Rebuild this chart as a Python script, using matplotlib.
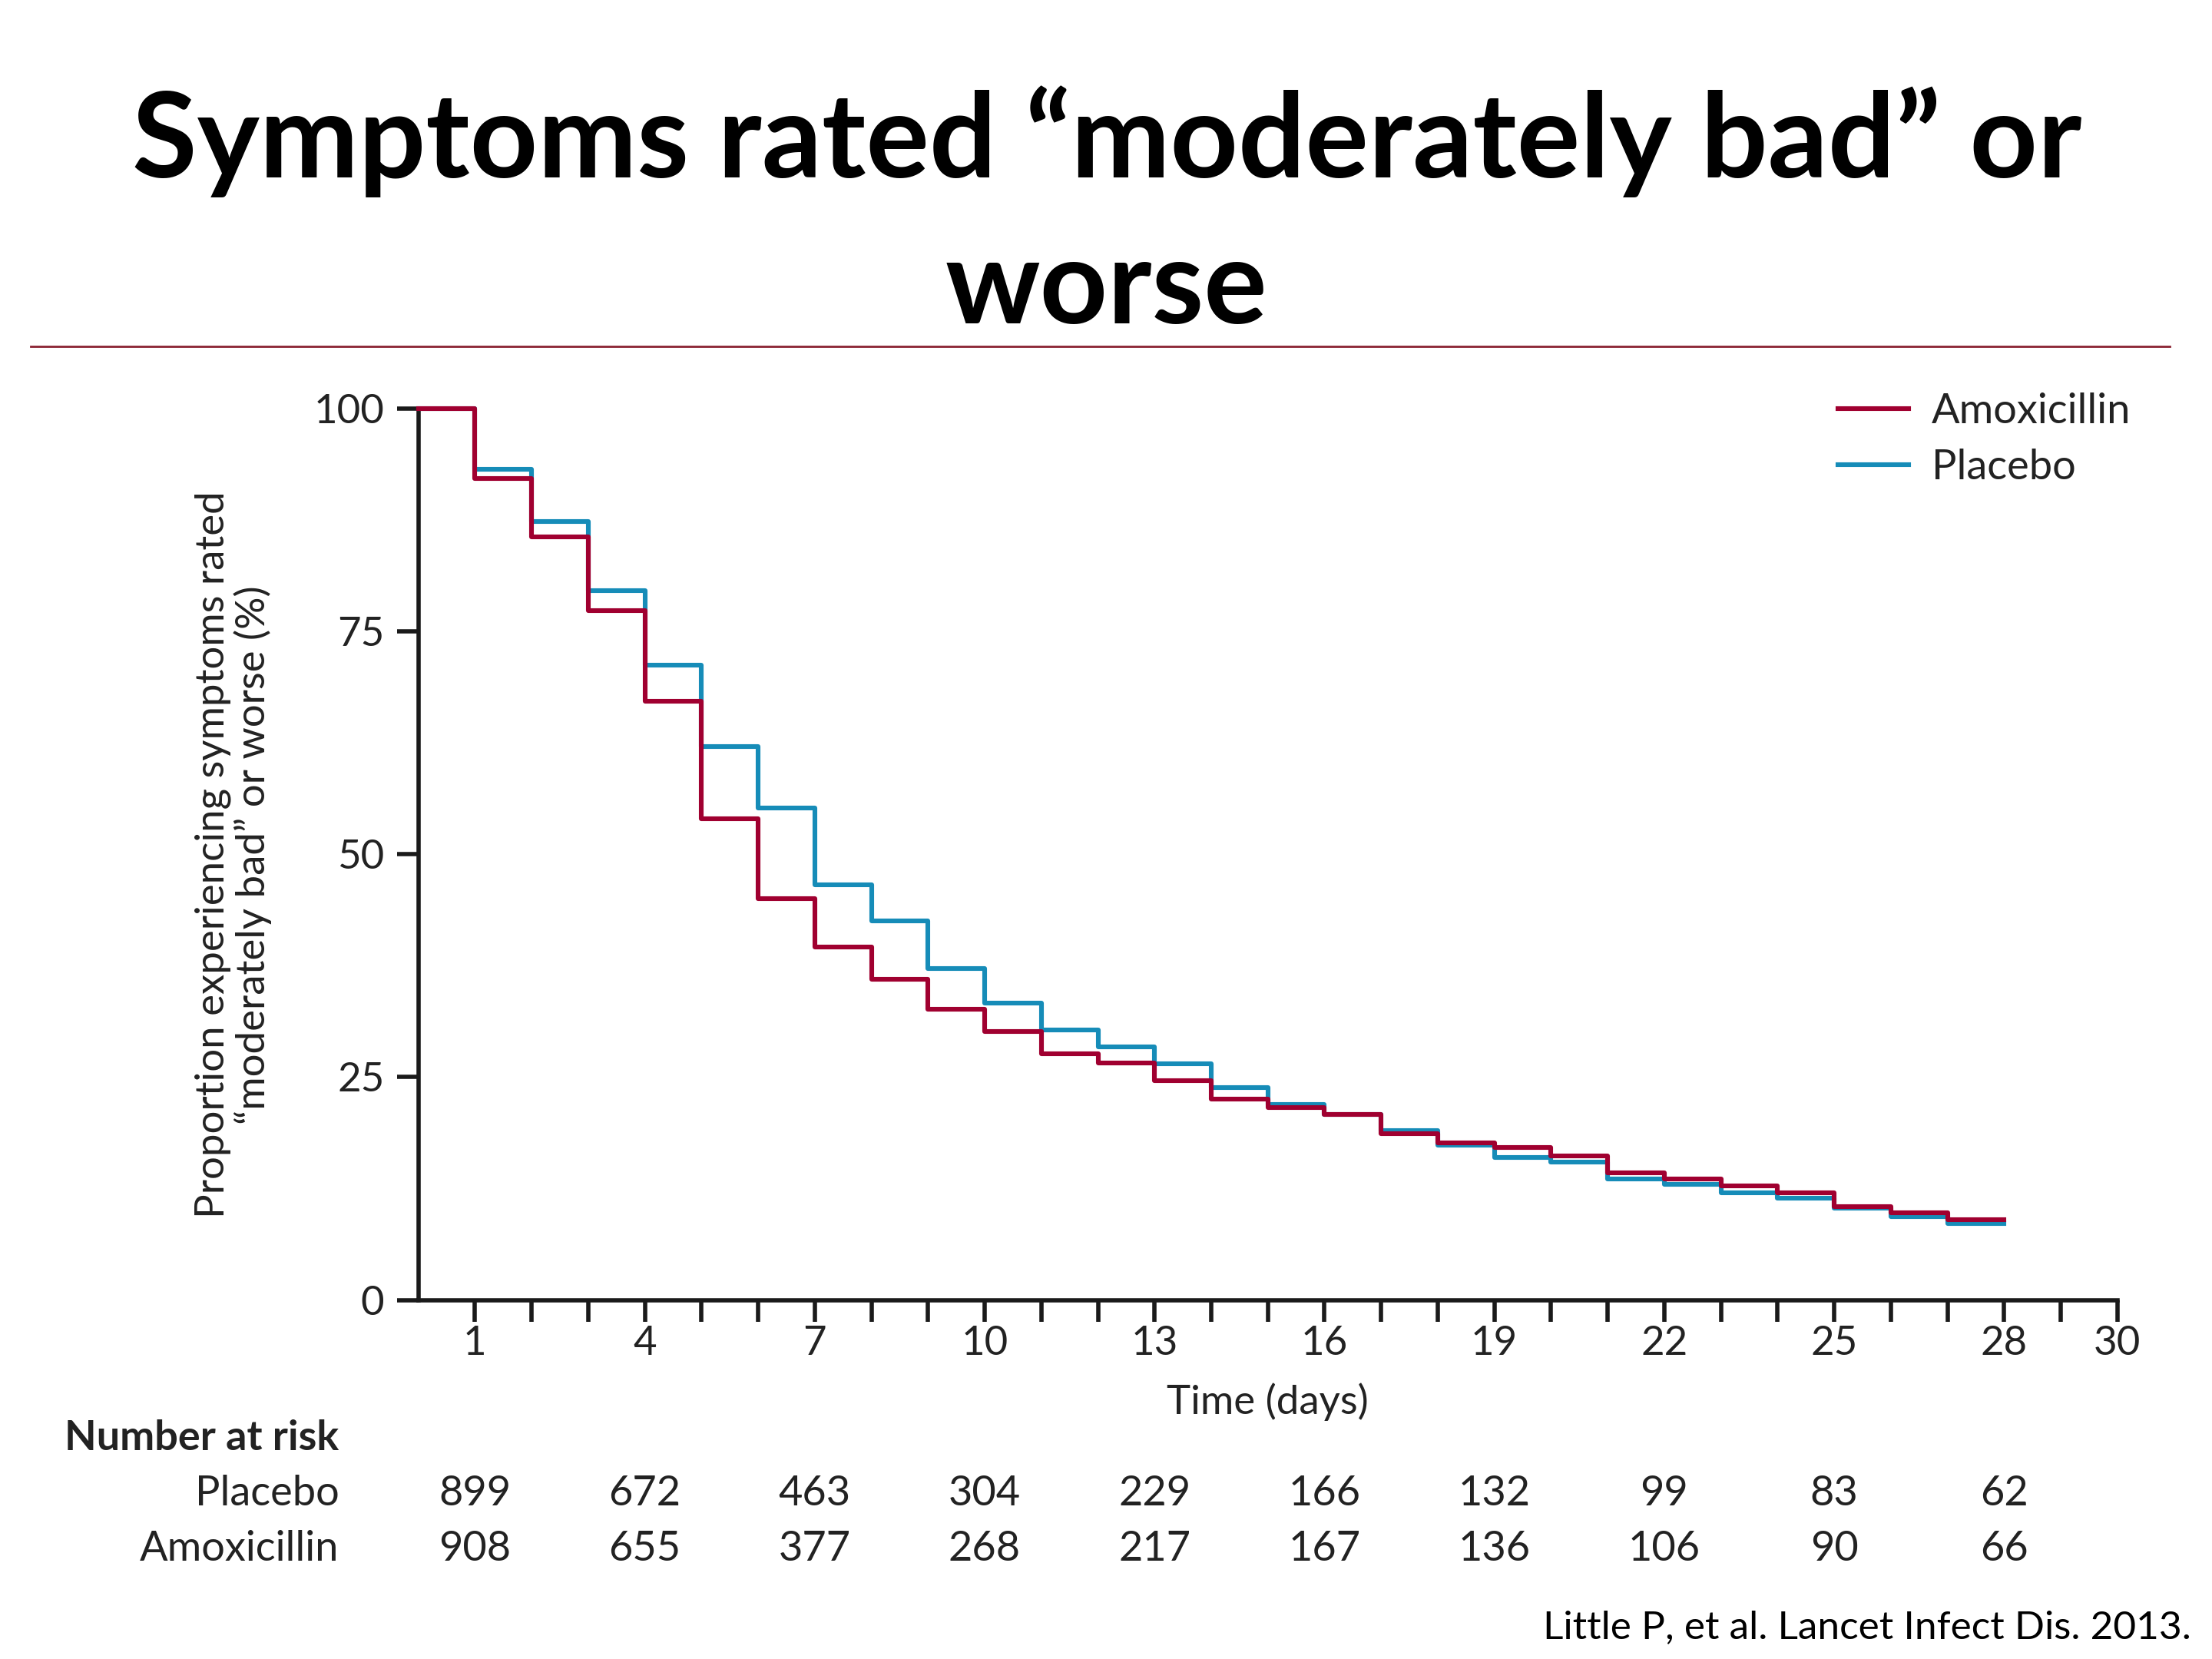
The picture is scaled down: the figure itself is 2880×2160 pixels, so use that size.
import matplotlib.pyplot as plt
import numpy as np

# ---------------- data ----------------
days = np.arange(0, 29)
# proportion (%) still rating symptoms "moderately bad" or worse, one value per day interval
amoxicillin = [100, 92.1, 85.6, 77.3, 67.2, 54.0, 45.0, 39.6, 36.0, 32.6,
               30.1, 27.6, 26.6, 24.6, 22.5, 21.6, 20.8, 18.7, 17.6, 17.1,
               16.2, 14.3, 13.6, 12.8, 12.0, 10.5, 9.8, 9.0]
placebo = [100, 93.2, 87.3, 79.6, 71.2, 62.1, 55.2, 46.6, 42.5, 37.2,
           33.3, 30.3, 28.4, 26.5, 23.8, 21.9, 20.8, 19.0, 17.4, 16.0,
           15.5, 13.6, 13.0, 12.0, 11.4, 10.3, 9.4, 8.6]

risk_days = [1, 4, 7, 10, 13, 16, 19, 22, 25, 28]
risk_placebo = [899, 672, 463, 304, 229, 166, 132, 99, 83, 62]
risk_amox = [908, 655, 377, 268, 217, 167, 136, 106, 90, 66]

xtick_labels = [1, 4, 7, 10, 13, 16, 19, 22, 25, 28, 30]
yticks = [0, 25, 50, 75, 100]

red = '#A00030'
blue = '#168CB8'
W, H = 1565.0, 1174.0   # reference coords used for placing things

plt.rcParams['font.family'] = ['Lato', 'DejaVu Sans']

fig = plt.figure(figsize=(14.4, 10.8), dpi=200)
fig.patch.set_facecolor('white')

# title
fig.text(783 / W, 1 - 100 / H, 'Symptoms rated \u201cmoderately bad\u201d or',
         ha='center', va='center', fontsize=55.5, fontweight='bold', color='black')
fig.text(783 / W, 1 - 205 / H, 'worse',
         ha='center', va='center', fontsize=55.5, fontweight='bold', color='black')
fig.add_artist(plt.Line2D([22 / W, 1535 / W], [1 - 245 / H, 1 - 245 / H],
                          color='#8B2232', lw=1.0))

ax = fig.add_axes([296 / W, 1 - 920 / H, (1498 - 296) / W, (920 - 289) / H])

ax.step(days, placebo + [placebo[-1]], where='post', color=blue, lw=2.2,
        label='Placebo', clip_on=False, zorder=3)
ax.step(days, amoxicillin + [amoxicillin[-1]], where='post', color=red, lw=2.2,
        label='Amoxicillin', clip_on=False, zorder=4)

ax.set_xlim(0, 30)
ax.set_ylim(0, 100)
for s in ['top', 'right']:
    ax.spines[s].set_visible(False)
for s in ['left', 'bottom']:
    ax.spines[s].set_linewidth(2.0)
    ax.spines[s].set_color('#1a1a1a')

ax.set_xticks(np.arange(1, 31), minor=True)
ax.set_xticks(xtick_labels)
ax.set_xticklabels([str(t) for t in xtick_labels])
ax.set_yticks(yticks)
ax.tick_params(axis='both', which='both', direction='out', length=10, width=2.0,
               color='#1a1a1a', labelsize=19, labelcolor='#222222')
ax.tick_params(axis='x', which='major', pad=2)
ax.tick_params(axis='y', pad=6)

ax.set_xlabel('Time (days)', fontsize=19, color='#222222', labelpad=10)
fig.text(165 / W, 1 - 605 / H,
         'Proportion experiencing symptoms rated\n\u201cmoderately bad\u201d or worse (%)',
         rotation=90, ha='center', va='center', fontsize=19, color='#222222',
         linespacing=1.1)

# legend (amoxicillin first)
handles, labels = ax.get_legend_handles_labels()
ax.legend(handles[::-1], labels[::-1], loc='upper right', bbox_to_anchor=(1.03, 1.06),
          frameon=False, fontsize=19.5, handlelength=1.7, handletextpad=0.55,
          labelspacing=0.45, labelcolor='#222222')

# number at risk table
trans = ax.get_xaxis_transform()
fig.text(240 / W, 1 - 1018 / H, 'Number at risk', ha='right', va='center',
         fontsize=19.5, fontweight='bold', color='#222222')
fig.text(240 / W, 1 - 1057 / H, 'Placebo', ha='right', va='center',
         fontsize=19.5, color='#222222')
fig.text(240 / W, 1 - 1096 / H, 'Amoxicillin', ha='right', va='center',
         fontsize=19.5, color='#222222')
y_pl = (1 - 1057 / H - (1 - 920 / H)) / ((920 - 289) / H)
y_am = (1 - 1096 / H - (1 - 920 / H)) / ((920 - 289) / H)
for d, p, a in zip(risk_days, risk_placebo, risk_amox):
    ax.text(d, y_pl, str(p), transform=trans, ha='center', va='center',
            fontsize=19.5, color='#222222', clip_on=False)
    ax.text(d, y_am, str(a), transform=trans, ha='center', va='center',
            fontsize=19.5, color='#222222', clip_on=False)

fig.text(1550 / W, 1 - 1152 / H, 'Little P, et al. Lancet Infect Dis. 2013.',
         ha='right', va='center', fontsize=18.5, color='black')

fig.savefig('out.png', dpi=200, facecolor='white')
